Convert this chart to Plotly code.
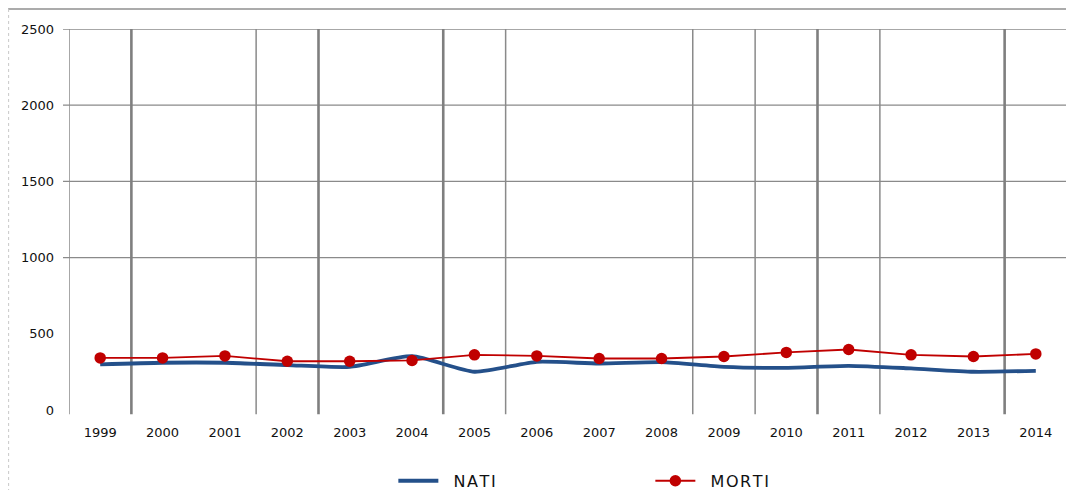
import plotly.graph_objects as go

years = ["1999", "2000", "2001", "2002", "2003", "2004", "2005", "2006",
         "2007", "2008", "2009", "2010", "2011", "2012", "2013", "2014"]
nati = [299, 310, 310, 295, 283, 353, 251, 316, 305, 314, 283, 277, 290, 273, 251, 257]
morti = [342, 342, 355, 320, 320, 325, 362, 355, 338, 338, 351, 378, 397, 362, 351, 368]
y_ticks = [0, 500, 1000, 1500, 2000, 2500]
y_grid = [1000, 1500, 2000, 2500]

# separatoare intre ani (ca in scan: unele lipsesc, unele mai groase)
sep_thick = [0.5, 3.5, 5.5, 11.5, 14.5]
sep_thin = [-0.5, 2.5, 6.5, 9.5, 10.5, 12.5, 15.5]

BLUE = "#24508A"
RED = "#C00000"
GRID = "#8A8A8A"

xs = list(range(len(years)))
hs = "\u200a"  # spatiu ingust intre litere in legenda

fig = go.Figure()
fig.add_trace(go.Scatter(x=xs, y=nati, mode="lines", name="  " + hs.join("NATI"),
                         line=dict(color=BLUE, width=3.8, shape="spline", smoothing=0.6)))
fig.add_trace(go.Scatter(x=xs, y=morti, mode="lines+markers", name="  " + hs.join("MORTI"),
                         line=dict(color=RED, width=1.8),
                         marker=dict(color=RED, size=11.5)))

shapes = []
for v in y_grid:
    shapes.append(dict(type="line", xref="paper", yref="y", x0=-0.006, x1=1, y0=v, y1=v,
                       line=dict(color=GRID, width=1.3), layer="below"))
for s in sep_thick:
    shapes.append(dict(type="line", xref="x", yref="paper", x0=s, x1=s, y0=-0.011, y1=1,
                       line=dict(color="#7F7F7F", width=2.6), layer="below"))
for s in sep_thin:
    shapes.append(dict(type="line", xref="x", yref="paper", x0=s, x1=s, y0=-0.011, y1=1,
                       line=dict(color=GRID, width=1.5), layer="below"))
# chenarul graficului (sus + stanga punctat)
shapes.append(dict(type="line", xref="paper", yref="paper", x0=-0.061, x1=1.007, y0=1.0525, y1=1.0525,
                   line=dict(color="#8F8F8F", width=1.3)))
shapes.append(dict(type="line", xref="paper", yref="paper", x0=-0.0605, x1=-0.0605, y0=1.0525, y1=-0.22,
                   line=dict(color="#C8C8C8", width=1, dash="dot")))

fig.update_layout(
    width=1066, height=482,
    margin=dict(l=61, r=7, t=21, b=80),
    plot_bgcolor="white", paper_bgcolor="white",
    font=dict(family="DejaVu Sans", color="#111111"),
    shapes=shapes,
    showlegend=True,
    legend=dict(orientation="h", x=0.325, xanchor="left",
                yref="container", y=0.019, yanchor="middle",
                entrywidth=202, entrywidthmode="pixels",
                font=dict(size=16, family="DejaVu Sans", color="#111111"),
                itemwidth=40),
)
fig.update_xaxes(range=[-0.5, 15.5], tickvals=xs, ticktext=years, showgrid=False,
                 zeroline=False, showline=False, ticks="", tickfont=dict(size=13),
                 ticklabelstandoff=13)
fig.update_yaxes(range=[0, 2500], tickvals=y_ticks, showgrid=False, zeroline=False,
                 showline=False, ticks="", tickfont=dict(size=13), ticklabelstandoff=14)

fig.write_html("out.html")
